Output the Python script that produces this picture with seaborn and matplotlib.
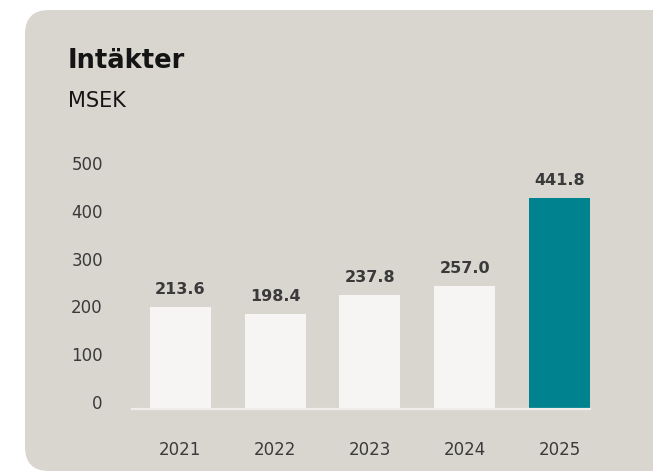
import matplotlib
matplotlib.use("Agg")
import matplotlib.pyplot as plt
import matplotlib.patches as mpatches
from matplotlib.transforms import IdentityTransform
import seaborn as sns
import pandas as pd

years = ["2021", "2022", "2023", "2024", "2025"]
revenue = [213.6, 198.4, 237.8, 257.0, 441.8]
yticks = [0, 100, 200, 300, 400, 500]

bg = "#d9d6d0"
bar_light = "#f6f5f3"
teal = "#00838f"
txt = "#3a3a3a"

sns.set_style("white")
plt.rcParams["font.family"] = ["DejaVu Sans"]

df = pd.DataFrame({"year": years, "value": revenue})
colors = [bar_light] * 4 + [teal]

fig = plt.figure(figsize=(6.53, 4.72), dpi=100, facecolor="white")

# rounded card behind everything (pixel coordinates)
card = mpatches.FancyBboxPatch((25, 1), 700, 461,
                               boxstyle="round,pad=0,rounding_size=24",
                               transform=IdentityTransform(),
                               facecolor=bg, edgecolor="none", zorder=0)
fig.add_artist(card)

ax = fig.add_axes([132 / 653, 63 / 472, 458 / 653, 239 / 472])
ax.set_facecolor("none")
sns.barplot(data=df, x="year", y="value", hue="year", palette=colors,
            legend=False, width=0.645, saturation=1, linewidth=0, ax=ax)

ax.set_xlim(-0.51, 4.3225)
ax.set_ylim(0, 500)
ax.set_yticks(yticks)
ax.set_yticklabels([str(t) for t in yticks], va="baseline")
ax.tick_params(axis="y", length=0, pad=21, labelsize=12, labelcolor=txt)
ax.tick_params(axis="x", length=0, pad=23, labelsize=12, labelcolor=txt)
ax.set_xlabel("")
ax.set_ylabel("")
for s in ["top", "right", "left"]:
    ax.spines[s].set_visible(False)
ax.spines["bottom"].set_color("#efeeeb")
ax.spines["bottom"].set_linewidth(1.6)

for i, v in enumerate(revenue):
    ax.annotate(f"{v:.1f}", (i, v), xytext=(0, 9.5), textcoords="offset points",
                ha="center", va="baseline", fontsize=11.5, fontweight="bold",
                color=txt, annotation_clip=False)

fig.text(68 / 653, 1 - 68 / 472, "Intäkter", fontsize=18.5, fontweight="bold",
         color="#141414", va="baseline", ha="left")
fig.text(68 / 653, 1 - 107 / 472, "MSEK", fontsize=15, color="#141414",
         va="baseline", ha="left")

fig.savefig("out.png", dpi=100, facecolor="white")
